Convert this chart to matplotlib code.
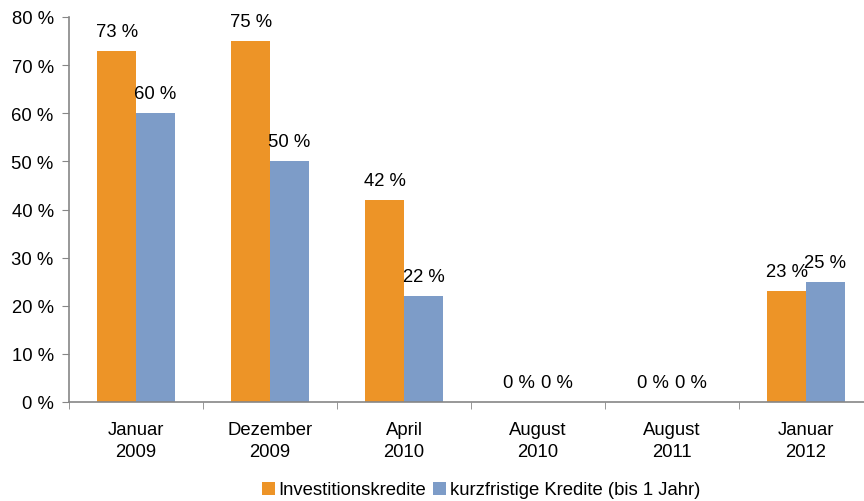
import numpy as np
import matplotlib.pyplot as plt

plt.rcParams['font.family'] = ['Liberation Sans', 'DejaVu Sans']

categories = ['Januar\n2009', 'Dezember\n2009', 'April\n2010', 'August\n2010', 'August\n2011', 'Januar\n2012']
invest = [73, 75, 42, 0, 0, 23]
kurz = [60, 50, 22, 0, 0, 25]
labels = ['Investitionskredite', 'kurzfristige Kredite (bis 1 Jahr)']

orange = '#ED9427'
blue = '#7D9CC8'
axcol = '#868686'
fs = 13.3

fig = plt.figure(figsize=(8.64, 5.02), dpi=100)
ax = fig.add_axes([69/864, 1-403/502, 804/864, 385/502])

x = np.arange(len(categories))
w = 0.29
b1 = ax.bar(x - w/2, invest, w, color=orange, label=labels[0])
b2 = ax.bar(x + w/2, kurz, w, color=blue, label=labels[1])

for bars in (b1, b2):
    for r in bars:
        h = r.get_height()
        ax.annotate(f'{h:.0f} %', (r.get_x() + r.get_width()/2, h),
                    xytext=(0, 8), textcoords='offset points',
                    ha='center', va='bottom', fontsize=fs)

ax.set_xlim(-0.5, len(categories) - 0.5)
ax.set_ylim(0, 80)
ax.set_yticks(range(0, 81, 10))
ax.set_yticklabels([f'{v} %' for v in range(0, 81, 10)], fontsize=fs)
ax.set_xticks(x)
ax.set_xticklabels(categories, fontsize=fs, linespacing=1.35)
ax.set_xticks(np.arange(-0.5, len(categories)), minor=True)
ax.tick_params(axis='x', which='major', length=0, pad=14)
ax.tick_params(axis='x', which='minor', length=5, color=axcol, direction='out')
ax.tick_params(axis='y', length=5, color=axcol, pad=6)

for s in ('top', 'right'):
    ax.spines[s].set_visible(False)
for s in ('left', 'bottom'):
    ax.spines[s].set_color(axcol)
    ax.spines[s].set_linewidth(1.2)

fig.legend(loc='center', bbox_to_anchor=(481/864, 1-491/502), ncol=2, frameon=False,
           fontsize=fs, handlelength=0.7, handleheight=0.7, handletextpad=0.2,
           columnspacing=0.4)

fig.savefig('out.png', dpi=100)
